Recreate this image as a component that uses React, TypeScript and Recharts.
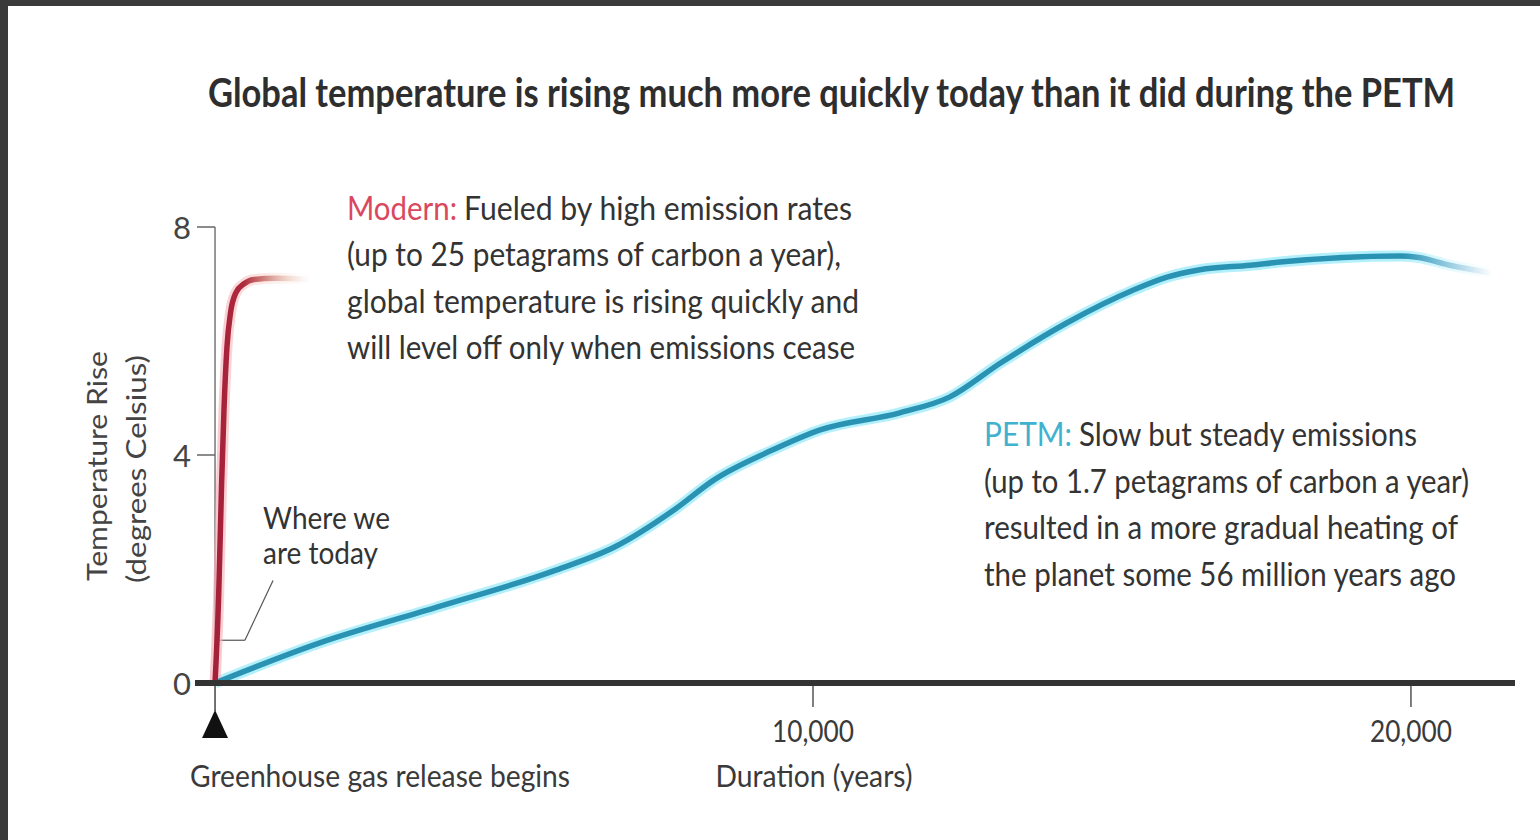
import React from 'react';
import { LineChart, Line, XAxis, YAxis, ReferenceLine } from 'recharts';

const modernYears = [0, 60, 110, 150, 200, 260, 350, 480, 650, 1000, 1600];
const modernTemps = [0, 1.5, 3.5, 4.8, 5.9, 6.5, 6.85, 7.0, 7.08, 7.1, 7.08];
const petmYears = [0, 1740, 3710, 5700, 6690, 7680, 8340, 9330, 10120, 11450, 12290, 13130, 14250, 15350, 15920, 16470, 17310, 17860, 19820, 20100, 20650, 21370];
const petmTemps = [0, 0.7, 1.33, 1.98, 2.39, 3.04, 3.56, 4.09, 4.44, 4.74, 5.02, 5.61, 6.32, 6.89, 7.12, 7.25, 7.33, 7.39, 7.49, 7.47, 7.33, 7.19];
const xTicks = [0, 10000, 20000];
const xTickLabels = ['', '10,000', '20,000'];
const yTicks = [0, 4, 8];

const modern = modernYears.map((year, i) => ({ year, temp: modernTemps[i] }));
const petm = petmYears.map((year, i) => ({ year, temp: petmTemps[i] }));

const FONT = "Lato, 'Open Sans', 'DejaVu Sans', sans-serif";
const AXIS_Y = 683;
const ZERO_X = 215;

const XTick = (props: any) => {
  const { x, payload } = props;
  const v = payload.value;
  const idx = xTicks.indexOf(v);
  if (v === 0) {
    return (
      <g>
        <line x1={x} x2={x} y1={AXIS_Y + 3} y2={AXIS_Y + 28} stroke="#444" strokeWidth={1.5} />
        <polygon points={`${x},${AXIS_Y + 27} ${x - 13},${AXIS_Y + 55} ${x + 13},${AXIS_Y + 55}`} fill="#111" />
        <text x={x - 25} y={AXIS_Y + 104} fontFamily={FONT} fontSize={31} fill="#3a3a3a" textLength={380} lengthAdjust="spacingAndGlyphs">
          Greenhouse gas release begins
        </text>
      </g>
    );
  }
  return (
    <g>
      <line x1={x} x2={x} y1={AXIS_Y + 3} y2={AXIS_Y + 24} stroke="#555" strokeWidth={1.5} />
      <text x={x} y={AXIS_Y + 59} fontFamily={FONT} fontSize={31} fill="#3a3a3a" textAnchor="middle" textLength={82} lengthAdjust="spacingAndGlyphs">
        {xTickLabels[idx]}
      </text>
      {v === 10000 && (
        <text x={x + 1} y={AXIS_Y + 104} fontFamily={FONT} fontSize={31} fill="#3a3a3a" textAnchor="middle" textLength={197} lengthAdjust="spacingAndGlyphs">
          Duration (years)
        </text>
      )}
    </g>
  );
};

const YTick = (props: any) => {
  const { y, payload } = props;
  const v = payload.value;
  return (
    <g>
      {v !== 0 && <line x1={197} x2={ZERO_X} y1={y} y2={y} stroke="#666" strokeWidth={1.5} />}
      <text x={191} y={y + 12} fontFamily={FONT} fontSize={31} fill="#444" textAnchor="end">
        {v}
      </text>
    </g>
  );
};

export default function App() {
  return (
    <div style={{ position: 'absolute', left: 0, top: 0, width: 1540, height: 840, background: '#fff', overflow: 'hidden' }}>
      <LineChart width={1540} height={840} data={petm} margin={{ top: 227, right: 25, bottom: 0, left: 0 }}>
        <defs>
          <linearGradient id="redFade" x1="0" y1="0" x2="1" y2="0">
            <stop offset="0" stopColor="#a3203a" stopOpacity={1} />
            <stop offset="0.3" stopColor="#b02a3d" stopOpacity={1} />
            <stop offset="0.5" stopColor="#c46a68" stopOpacity={0.85} />
            <stop offset="0.75" stopColor="#dcae9c" stopOpacity={0.45} />
            <stop offset="1" stopColor="#f0d8d0" stopOpacity={0} />
          </linearGradient>
          <linearGradient id="redGlowFade" x1="0" y1="0" x2="1" y2="0">
            <stop offset="0" stopColor="#f7b0b8" stopOpacity={0.7} />
            <stop offset="0.5" stopColor="#f9d0c8" stopOpacity={0.5} />
            <stop offset="1" stopColor="#fbe8e0" stopOpacity={0} />
          </linearGradient>
          <linearGradient id="blueFade" x1="0" y1="0" x2="1" y2="0">
            <stop offset="0" stopColor="#2a93b3" stopOpacity={1} />
            <stop offset="0.93" stopColor="#2a93b3" stopOpacity={1} />
            <stop offset="1" stopColor="#6aa6d0" stopOpacity={0} />
          </linearGradient>
          <linearGradient id="blueGlowFade" x1="0" y1="0" x2="1" y2="0">
            <stop offset="0" stopColor="#9fecfa" stopOpacity={0.8} />
            <stop offset="0.93" stopColor="#9fecfa" stopOpacity={0.8} />
            <stop offset="1" stopColor="#c8f4fc" stopOpacity={0} />
          </linearGradient>
        </defs>
        <XAxis
          dataKey="year"
          type="number"
          domain={[-335, 21740]}
          ticks={xTicks}
          allowDataOverflow
          height={157}
          axisLine={{ stroke: '#333', strokeWidth: 6 }}
          tickLine={false}
          tick={<XTick />}
          interval={0}
        />
        <YAxis
          type="number"
          domain={[0, 8]}
          ticks={yTicks}
          width={195}
          axisLine={false}
          tickLine={false}
          tick={<YTick />}
          interval={0}
        />
        <ReferenceLine segment={[{ x: 0, y: 0 }, { x: 0, y: 8 }]} stroke="#777" strokeWidth={1.5} />
        <ReferenceLine segment={[{ x: 30, y: 0.75 }, { x: 500, y: 0.75 }]} stroke="#555" strokeWidth={1.2} />
        <ReferenceLine segment={[{ x: 500, y: 0.75 }, { x: 970, y: 1.8 }]} stroke="#555" strokeWidth={1.2} />
        <Line data={petm} dataKey="temp" type="monotone" stroke="url(#blueGlowFade)" strokeWidth={11} dot={false} activeDot={false} isAnimationActive={false} />
        <Line data={modern} dataKey="temp" type="monotone" stroke="url(#redGlowFade)" strokeWidth={11} dot={false} activeDot={false} isAnimationActive={false} />
        <Line data={petm} dataKey="temp" type="monotone" stroke="url(#blueFade)" strokeWidth={5.5} dot={false} activeDot={false} isAnimationActive={false} />
        <Line data={modern} dataKey="temp" type="monotone" stroke="url(#redFade)" strokeWidth={5.5} dot={false} activeDot={false} isAnimationActive={false} />
      </LineChart>
      <svg width={1540} height={840} style={{ position: 'absolute', left: 0, top: 0, pointerEvents: 'none' }}>
        <rect x={0} y={0} width={1540} height={6} fill="#3a3a3a" />
        <rect x={0} y={0} width={8} height={840} fill="#3a3a3a" />
        <text x={0} y={0} transform="translate(208,107) scale(0.78,1)" fontFamily={FONT} fontSize={40} fontWeight={700} fill="#2e2e2e" textLength={1599} lengthAdjust="spacingAndGlyphs">
          Global temperature is rising much more quickly today than it did during the PETM
        </text>
        <g fontFamily={FONT} fontSize={33} fill="#333">
          <text x={347} y={220} fill="#d9485e" textLength={110} lengthAdjust="spacingAndGlyphs">Modern:</text>
          <text x={464} y={220} textLength={388} lengthAdjust="spacingAndGlyphs">Fueled by high emission rates</text>
          <text x={347} y={266} textLength={494} lengthAdjust="spacingAndGlyphs">(up to 25 petagrams of carbon a year),</text>
          <text x={347} y={313} textLength={512} lengthAdjust="spacingAndGlyphs">global temperature is rising quickly and</text>
          <text x={347} y={359} textLength={508} lengthAdjust="spacingAndGlyphs">will level off only when emissions cease</text>

          <text x={984} y={446} fill="#3fb2cf" textLength={88} lengthAdjust="spacingAndGlyphs">PETM:</text>
          <text x={1079} y={446} textLength={338} lengthAdjust="spacingAndGlyphs">Slow but steady emissions</text>
          <text x={984} y={493} textLength={485} lengthAdjust="spacingAndGlyphs">(up to 1.7 petagrams of carbon a year)</text>
          <text x={984} y={539} textLength={474} lengthAdjust="spacingAndGlyphs">resulted in a more gradual heating of</text>
          <text x={984} y={586} textLength={472} lengthAdjust="spacingAndGlyphs">the planet some 56 million years ago</text>

          <text x={263} y={529} fontSize={31} textLength={127} lengthAdjust="spacingAndGlyphs">Where we</text>
          <text x={263} y={564} fontSize={31} textLength={115} lengthAdjust="spacingAndGlyphs">are today</text>
        </g>
        <g fontFamily={FONT} fontSize={27} fill="#444">
          <text x={0} y={0} transform="translate(107,466) rotate(-90)" textAnchor="middle" textLength={230} lengthAdjust="spacingAndGlyphs">Temperature Rise</text>
          <text x={0} y={0} transform="translate(146,469) rotate(-90)" textAnchor="middle" textLength={228} lengthAdjust="spacingAndGlyphs">(degrees Celsius)</text>
        </g>
      </svg>
    </div>
  );
}
